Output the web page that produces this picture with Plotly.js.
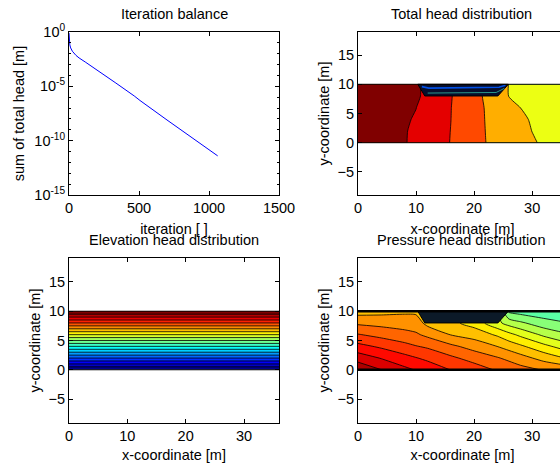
<!DOCTYPE html>
<html><head><meta charset="utf-8">
<script src="https://cdn.plot.ly/plotly-3.0.1.min.js"></script>
<style>html,body{margin:0;padding:0;overflow:hidden;background:#fff}#chart{width:580px;height:468px}</style>
</head><body><div id="chart"></div>
<script>
// ---------- Iteration balance ----------
const iterations = [0, 3, 6, 12, 24, 50, 72, 120, 215, 335, 466, 507, 700, 900, 1062];
const headSum = [0.8, 0.12, 0.065, 0.034, 0.017, 7e-3, 4.1e-3, 1.6e-3, 2.5e-4, 2e-5, 1.3e-6, 5e-7, 8e-9, 1.3e-10, 4e-12];
const logTickVals = [1e-15, 1e-10, 1e-5, 1];
const logTickText = ['10<sup>-15</sup>', '10<sup>-10</sup>', '10<sup>-5</sup>', '10<sup>0</sup>'];
const logMinorVals = [1e-14,1e-13,1e-12,1e-11,1e-9,1e-8,1e-7,1e-6,1e-4,1e-3,1e-2,1e-1];
const iterTicks = [0, 500, 1000, 1500];

// ---------- model geometry ----------
const coordTicksX = [0, 10, 20, 30];
const coordTicksY = [-5, 0, 5, 10, 15];
const edgeX = [0, 36, null, 0, 36];
const edgeY = [0, 0, null, 10, 10];
const cutX = [10.3, 11.5, 24.1, 25.9, 10.3];
const cutY = [10, 8, 8, 10, 10];
// artefact streaks inside the excavation (total head plot)
const streakBlueX = [11.0, 12.2, 24.3, 25.4];
const streakBlueY = [9.6, 9.35, 9.5, 9.85];
const streakCyanX = [12.0, 23.8, 25.2];
const streakCyanY = [8.5, 8.6, 9.3];

// ---------- Total head [m] ----------
const headX = [0, 6, 8, 10, 12, 14, 16, 18, 20, 22, 24, 26, 28, 30, 32, 36];
const headY = [0, 2, 4, 6, 8, 10];
const headRow0  = [10.0, 9.929, 9.912, 9.858, 9.803, 9.749, 9.694, 9.629, 9.565, 9.501, 9.455, 9.409, 9.364, 9.318, 9.277, 9.2];
const headRow2  = [10.0, 9.933, 9.911, 9.871, 9.813, 9.755, 9.697, 9.63, 9.563, 9.4975, 9.4475, 9.3975, 9.3475, 9.298, 9.266, 9.2];
const headRow4  = [10.0, 9.9375, 9.917, 9.8875, 9.825, 9.7625, 9.701, 9.631, 9.562, 9.494, 9.439, 9.383, 9.328, 9.286, 9.257, 9.2];
const headRow6  = [10.0, 9.941, 9.922, 9.902, 9.839, 9.771, 9.703, 9.632, 9.561, 9.49, 9.426, 9.361, 9.299, 9.274, 9.249, 9.2];
const headRow8  = [10.0, 9.948, 9.93, 9.913, 9.879, 9.794, 9.709, 9.632, 9.557, 9.476, 9.378, 9.296, 9.277, 9.258, 9.238, 9.2];
const headRow10 = [10.0, 9.948, 9.93, 9.913, 9.879, 9.794, 9.709, 9.632, 9.557, 9.476, 9.378, 9.296, 9.277, 9.258, 9.238, 9.2];
const headLevels = {start: 8.1, end: 9.9, size: 0.2};

// ---------- Elevation head [m] ----------
const elevX = [0, 36];
const elevY = [0, 10];
const elevRow0 = [0, 0];
const elevRow10 = [10, 10];
const elevLevels = {start: 0.5, end: 9.5, size: 0.5};

// ---------- Pressure head [m] ----------
const presX = [0, 4, 8, 10, 12, 16, 20, 24, 26, 28, 32, 36];
const presY = [0, 2, 4, 6, 8, 10];
const presRow0  = [10, 8.72, 7.5, 7.0, 6.5, 5.45, 4.7, 3.72, 3.35, 2.9, 2.18, 1.72];
const presRow2  = [8, 7.01, 6.03, 5.58, 5.14, 4.21, 3.29, 2.43, 1.92, 1.32, 0.12, -1.01];
const presRow4  = [6, 5.22, 4.41, 3.98, 3.65, 2.64, 1.68, 0.68, 0.04, -0.62, -2.04, -3.36];
const presRow6  = [4, 3.39, 2.83, 2.52, 1.92, 0.64, 0.01, -1.13, -2.04, -2.87, -4.44, -5.5];
const presRow8  = [2, 1.77, 1.56, 1.42, 0.2, -0.5, -1.52, -3.7, -4.74, -5.43, -6.66, -7.25];
const presRow10 = [0.02, 0.2, 0.41, 0.39, 0.0, -0.5, -1.52, -4.0, -7.6, -8.0, -8.3, -8.5];
const presLevels = {start: -23.3, end: 10.3, size: 1.6};

// ---------- styling ----------
const W = 580, H = 468;
const FONT = 'Liberation Sans, Arial, Helvetica, sans-serif';
const jet = [[0,'rgb(0,0,143)'],[0.111,'rgb(0,0,255)'],[0.365,'rgb(0,255,255)'],[0.619,'rgb(255,255,0)'],[0.873,'rgb(255,0,0)'],[1,'rgb(128,0,0)']];
const px = (a, b) => [a / W, b / W];
const py = (top, bottom) => [1 - bottom / H, 1 - top / H];

function contourTrace(x, y, z, lv, xa, ya) {
  return {type: 'contour', x: x, y: y, z: z, xaxis: xa, yaxis: ya,
    colorscale: jet, showscale: false, autocontour: false,
    contours: {start: lv.start, end: lv.end, size: lv.size, coloring: 'fill', showlines: true},
    line: {color: '#000', width: 0.8, smoothing: 0.6}, hoverinfo: 'skip'};
}
function lineTrace(x, y, xa, ya, color, w) {
  return {type: 'scatter', mode: 'lines', x: x, y: y, xaxis: xa, yaxis: ya,
    line: {color: color, width: w}, hoverinfo: 'skip', showlegend: false};
}
function cutTrace(xa, ya, fill) {
  return {type: 'scatter', mode: 'lines', x: cutX, y: cutY, xaxis: xa, yaxis: ya,
    fill: 'toself', fillcolor: fill, line: {color: '#000', width: 1},
    hoverinfo: 'skip', showlegend: false};
}

const traces = [
  lineTrace(iterations, headSum, 'x', 'y', 'rgb(0,0,255)', 1),
  contourTrace(headX, headY, [headRow0, headRow2, headRow4, headRow6, headRow8, headRow10], headLevels, 'x2', 'y2'),
  cutTrace('x2', 'y2', 'rgb(6,14,44)'),
  lineTrace(streakBlueX, streakBlueY, 'x2', 'y2', 'rgb(0,80,230)', 1.6),
  lineTrace(streakCyanX, streakCyanY, 'x2', 'y2', 'rgb(40,150,140)', 1),
  lineTrace(edgeX, edgeY, 'x2', 'y2', '#000', 1),
  contourTrace(elevX, elevY, [elevRow0, elevRow10], elevLevels, 'x3', 'y3'),
  lineTrace(edgeX, edgeY, 'x3', 'y3', '#000', 1),
  contourTrace(presX, presY, [presRow0, presRow2, presRow4, presRow6, presRow8, presRow10], presLevels, 'x4', 'y4'),
  cutTrace('x4', 'y4', 'rgb(12,26,40)'),
  lineTrace(edgeX, edgeY, 'x4', 'y4', '#000', 2.5)
];

function ax(extra) {
  return Object.assign({showline: true, linecolor: '#000', linewidth: 1, mirror: 'ticks',
    ticks: 'inside', ticklen: 4, tickcolor: '#000', tickwidth: 1, showgrid: false, zeroline: false,
    automargin: false, tickfont: {family: FONT, size: 14.5, color: '#000'}}, extra);
}
function ttl(text, standoff) {
  return {text: text, font: {family: FONT, size: 14.5, color: '#000'}, standoff: standoff};
}

const layout = {
  width: W, height: H, margin: {l: 0, r: 0, t: 0, b: 0},
  paper_bgcolor: '#fff', plot_bgcolor: '#fff', showlegend: false,
  xaxis: ax({domain: px(69, 279), anchor: 'y', range: [0, 1500], tickmode: 'array', tickvals: iterTicks, title: ttl('iteration [ ]', 8)}),
  yaxis: ax({domain: py(32, 195), anchor: 'x', type: 'log', range: [-15, 0], tickmode: 'array', tickvals: logTickVals, ticktext: logTickText,
    minor: {tickmode: 'array', tickvals: logMinorVals, ticks: 'inside', ticklen: 2, tickcolor: '#000'}, title: ttl('sum of total head [m]', 6)}),
  xaxis2: ax({domain: px(358, 567), anchor: 'y2', range: [0, 36], tickmode: 'array', tickvals: coordTicksX, title: ttl('x-coordinate [m]', 8)}),
  yaxis2: ax({domain: py(32, 195), anchor: 'x2', range: [-8.95, 18.95], tickmode: 'array', tickvals: coordTicksY, title: ttl('y-coordinate [m]', 4)}),
  xaxis3: ax({domain: px(69, 279), anchor: 'y3', range: [0, 36], tickmode: 'array', tickvals: coordTicksX, title: ttl('x-coordinate [m]', 6)}),
  yaxis3: ax({domain: py(258, 423), anchor: 'x3', range: [-9.1, 19.1], tickmode: 'array', tickvals: coordTicksY, title: ttl('y-coordinate [m]', 4)}),
  xaxis4: ax({domain: px(358, 567), anchor: 'y4', range: [0, 36], tickmode: 'array', tickvals: coordTicksX, title: ttl('x-coordinate [m]', 6)}),
  yaxis4: ax({domain: py(258, 423), anchor: 'x4', range: [-9.1, 19.1], tickmode: 'array', tickvals: coordTicksY, title: ttl('y-coordinate [m]', 4)}),
  annotations: [
    {text: 'Iteration balance', x: 174 / W, y: 1 - 14 / H},
    {text: 'Total head distribution', x: 461 / W, y: 1 - 14 / H},
    {text: 'Elevation head distribution', x: 174 / W, y: 1 - 240 / H},
    {text: 'Pressure head distribution', x: 461 / W, y: 1 - 240 / H}
  ].map(a => Object.assign({xref: 'paper', yref: 'paper', xanchor: 'center', yanchor: 'middle', showarrow: false,
    font: {family: FONT, size: 14.5, color: '#000'}}, a))
};

Plotly.newPlot('chart', traces, layout, {staticPlot: true, displayModeBar: false});
</script></body></html>
